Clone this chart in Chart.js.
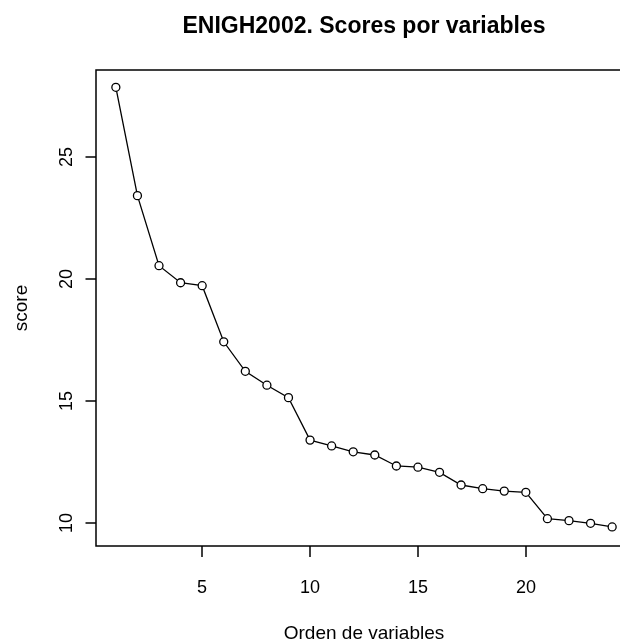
<!DOCTYPE html>
<html>
<head>
<meta charset="utf-8">
<script src="https://cdn.jsdelivr.net/npm/chart.js@4/dist/chart.umd.min.js"></script>
<style>
  html, body { margin: 0; padding: 0; background: #fff; overflow: hidden; }
  #chart { display: block; }
</style>
</head>
<body>
<canvas id="chart" width="660" height="643"></canvas>
<script>
// orden de las variables y su score
const orden = [1, 2, 3, 4, 5, 6, 7, 8, 9, 10, 11, 12, 13, 14, 15, 16, 17, 18, 19, 20, 21, 22, 23, 24];
const scores = [27.87, 23.43, 20.56, 19.86, 19.74, 17.44, 16.23, 15.66, 15.15, 13.41, 13.17, 12.93,
                12.80, 12.35, 12.30, 12.09, 11.57, 11.42, 11.32, 11.27, 10.19, 10.11, 10.00, 9.85];
const xTicks = [5, 10, 15, 20];
const yTicks = [10, 15, 20, 25];

const titulo = 'ENIGH2002. Scores por variables';
const xTitulo = 'Orden de variables';
const yTitulo = 'score';

const FONT = '"Liberation Sans", Arial, Helvetica, sans-serif';

// dibuja la caja, los ejes y los textos al estilo de R base
const rAxes = {
    id: 'rAxes',
    afterDraw(chart) {
        const ctx = chart.ctx;
        const area = chart.chartArea;
        const xs = chart.scales.x;
        const ys = chart.scales.y;
        ctx.save();
        ctx.strokeStyle = '#000';
        ctx.fillStyle = '#000';
        ctx.lineWidth = 1.5;
        ctx.strokeRect(area.left, area.top, area.right - area.left, area.bottom - area.top);

        ctx.font = '18px ' + FONT;
        ctx.textAlign = 'center';
        ctx.textBaseline = 'alphabetic';
        xTicks.forEach(v => {
            const px = Math.round(xs.getPixelForValue(v));
            ctx.beginPath();
            ctx.moveTo(px, area.bottom);
            ctx.lineTo(px, area.bottom + 11);
            ctx.stroke();
            ctx.fillText(String(v), px, 593);
        });
        yTicks.forEach(v => {
            const py = Math.round(ys.getPixelForValue(v));
            ctx.beginPath();
            ctx.moveTo(area.left, py);
            ctx.lineTo(area.left - 10.5, py);
            ctx.stroke();
            ctx.save();
            ctx.translate(72, py);
            ctx.rotate(-Math.PI / 2);
            ctx.fillText(String(v), 0, 0);
            ctx.restore();
        });

        const cx = (area.left + area.right) / 2;
        const cy = (area.top + area.bottom) / 2;
        ctx.font = '19px ' + FONT;
        ctx.fillText(xTitulo, cx, 639);
        ctx.save();
        ctx.translate(27, cy);
        ctx.rotate(-Math.PI / 2);
        ctx.fillText(yTitulo, 0, 0);
        ctx.restore();

        ctx.font = 'bold 23px ' + FONT;
        ctx.fillText(titulo, cx, 33);
        ctx.restore();
    }
};

const ctx = document.getElementById('chart').getContext('2d');
new Chart(ctx, {
    type: 'scatter',
    data: {
        datasets: [{
            data: orden.map((o, i) => ({ x: o, y: scores[i] })),
            showLine: true,
            borderColor: '#000',
            borderWidth: 1.3,
            pointRadius: 4,
            pointHoverRadius: 4,
            pointBorderWidth: 1.3,
            pointBorderColor: '#000',
            pointBackgroundColor: '#fff'
        }]
    },
    options: {
        responsive: false,
        animation: false,
        layout: { padding: { left: 96, top: 70, right: 28, bottom: 97 } },
        scales: {
            x: { type: 'linear', min: 0.08, max: 24.92, display: false },
            y: { type: 'linear', min: 9.07, max: 28.58, display: false }
        },
        plugins: {
            legend: { display: false },
            tooltip: { enabled: false },
            title: { display: false }
        }
    },
    plugins: [rAxes]
});
</script>
</body>
</html>
